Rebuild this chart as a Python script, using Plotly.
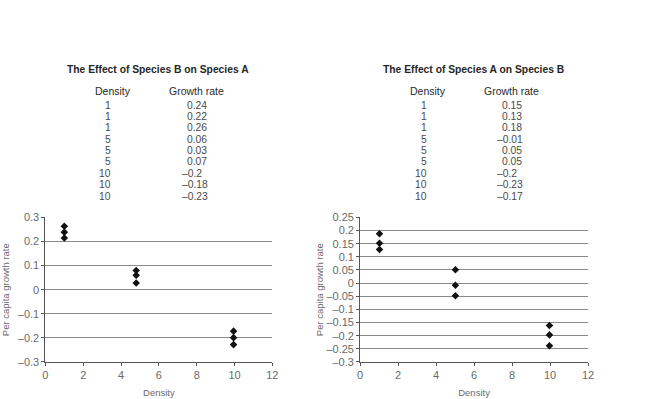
import plotly.graph_objects as go

# ---- data ----
title_a = "The Effect of Species B on Species A"
title_b = "The Effect of Species A on Species B"
table_headers = ["Density", "Growth rate"]

table_a_density = ["1", "1", "1", "5", "5", "5", "10", "10", "10"]
table_a_growth = ["0.24", "0.22", "0.26", "0.06", "0.03", "0.07", "–0.2", "–0.18", "–0.23"]
table_b_density = ["1", "1", "1", "5", "5", "5", "10", "10", "10"]
table_b_growth = ["0.15", "0.13", "0.18", "–0.01", "0.05", "0.05", "–0.2", "–0.23", "–0.17"]

# plotted points (as drawn in the charts)
plot_a_x = [1, 1, 1, 4.8, 4.8, 4.8, 9.95, 9.95, 9.95]
plot_a_y = [0.263, 0.239, 0.215, 0.080, 0.060, 0.028, -0.172, -0.199, -0.228]
plot_b_x = [1.02, 1.02, 1.02, 5.02, 5.02, 5.02, 9.97, 9.97, 9.97]
plot_b_y = [0.188, 0.152, 0.128, 0.051, -0.008, -0.048, -0.161, -0.197, -0.238]

x_ticks = [0, 2, 4, 6, 8, 10, 12]
y_ticks_a = [0.3, 0.2, 0.1, 0, -0.1, -0.2, -0.3]
y_ticks_b = [0.25, 0.2, 0.15, 0.1, 0.05, 0, -0.05, -0.1, -0.15, -0.2, -0.25, -0.3]

x_title = "Density"
y_title = "Per capita growth rate"

# ---- figure ----
W, H = 668, 399
FONT = "Liberation Sans, Arial, Helvetica, sans-serif"
GRID = "#8a8a8a"
AXIS = "#555555"
TICKC = "#6a6a6a"


def fmt(v):
    s = f"{v:g}"
    return s.replace("-", "–")


def px(x):
    return x / W


def py(y):
    return 1 - y / H


fig = go.Figure()
fig.add_trace(go.Scatter(x=plot_a_x, y=plot_a_y, mode="markers", xaxis="x", yaxis="y",
                         marker=dict(symbol="diamond", size=5.8, color="#111111"),
                         showlegend=False))
fig.add_trace(go.Scatter(x=plot_b_x, y=plot_b_y, mode="markers", xaxis="x2", yaxis="y2",
                         marker=dict(symbol="diamond", size=5.8, color="#111111"),
                         showlegend=False))

ydom = [py(367), py(218)]

xaxis_common = dict(range=[0, 12], tickvals=x_ticks, ticktext=[fmt(v) for v in x_ticks],
                    showgrid=False, zeroline=False, showline=True, linecolor=AXIS, linewidth=1,
                    ticks="outside", ticklen=3, tickcolor=AXIS,
                    tickfont=dict(family=FONT, size=11, color=TICKC),
                    title=dict(text=x_title, font=dict(family=FONT, size=9.5, color=TICKC), standoff=9),
                    fixedrange=True)


def yaxis_common(ticks, rng, standoff):
    return dict(range=rng, tickvals=ticks, ticktext=[fmt(v) for v in ticks],
                showgrid=True, gridcolor=GRID, gridwidth=1, zeroline=False,
                showline=True, linecolor=AXIS, linewidth=1,
                ticks="outside", ticklen=3, tickcolor=AXIS,
                tickfont=dict(family=FONT, size=11, color=TICKC),
                title=dict(text=y_title, font=dict(family=FONT, size=9.5, color=TICKC), standoff=standoff),
                fixedrange=True)


fig.update_layout(
    width=W, height=H,
    margin=dict(l=0, r=0, t=0, b=0),
    paper_bgcolor="white", plot_bgcolor="white",
    xaxis=dict(domain=[px(43), px(273)], anchor="y", **xaxis_common),
    yaxis=dict(domain=ydom, anchor="x", **yaxis_common(y_ticks_a, [-0.3, 0.3], 8)),
    xaxis2=dict(domain=[px(362), px(593)], anchor="y2", **xaxis_common),
    yaxis2=dict(domain=ydom, anchor="x2", **yaxis_common(y_ticks_b, [-0.3, 0.25], 1)),
)

annotations = []


def add_text(x, y, text, size, color, xanchor="center", xshift=0):
    annotations.append(dict(x=px(x), y=py(y), xref="paper", yref="paper", text=text,
                            showarrow=False, xanchor=xanchor, yanchor="middle", xshift=xshift,
                            font=dict(family=FONT, size=size, color=color)))


def add_table(cx, title, dens, growth):
    # cx = horizontal center of table title
    add_text(cx, 65, "<b>" + title + "</b>", 10.3, "#262626")
    add_text(cx - 46, 88, table_headers[0], 10.5, "#2a2a2a")
    add_text(cx + 39, 88, table_headers[1], 10.5, "#2a2a2a")
    for i, (d, g) in enumerate(zip(dens, growth)):
        y = 102.3 + 11.7 * i
        add_text(cx - 45, y, d, 10.3, "#4a4a4a", xanchor="right")
        shift = -5 if g.startswith("–") else 0
        add_text(cx + 27, y, g, 10.3, "#4a4a4a", xanchor="left", xshift=shift)


add_table(157, title_a, table_a_density, table_a_growth)
add_table(476.5, title_b, table_b_density, table_b_growth)

fig.update_layout(annotations=annotations)

fig.write_html("out.html", config={"displayModeBar": False},
               post_script="document.body.style.margin='0';document.body.style.overflow='hidden';")
